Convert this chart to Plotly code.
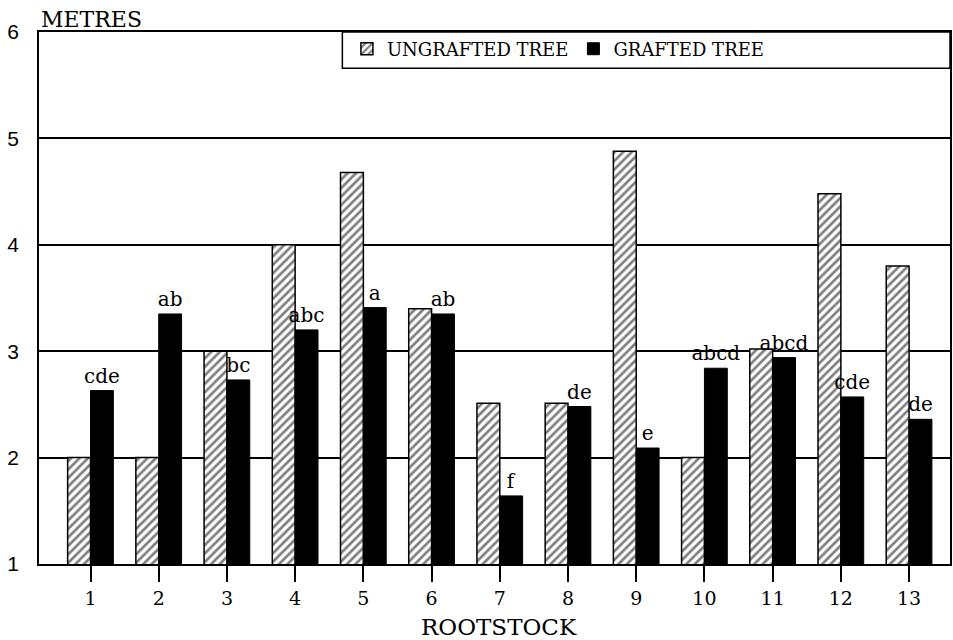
import plotly.graph_objects as go

rootstocks = list(range(1, 14))
tick_labels = [str(r) for r in rootstocks]
ungrafted = [2.0, 2.0, 3.0, 4.0, 4.68, 3.40, 2.51, 2.51, 4.88, 2.0, 3.02, 4.48, 3.80]
grafted = [2.63, 3.35, 2.73, 3.20, 3.41, 3.35, 1.64, 2.48, 2.09, 2.84, 2.94, 2.57, 2.36]
letters = ["cde", "ab", "bc", "abc", "a", "ab", "f", "de", "e", "abcd", "abcd", "cde", "de"]
y_ticks = [1, 2, 3, 4, 5, 6]

SERIF = "DejaVu Serif"
SANS = "Liberation Sans"

fig = go.Figure()
fig.add_trace(go.Bar(
    x=rootstocks, y=ungrafted, name="UNGRAFTED TREE",
    marker=dict(color="white", line=dict(color="black", width=1.5),
                pattern=dict(shape="/", fgcolor="black", bgcolor="white",
                             size=6, solidity=0.45)),
))
fig.add_trace(go.Bar(
    x=rootstocks, y=grafted, name="GRAFTED TREE",
    marker=dict(color="black", line=dict(color="black", width=1)),
    text=letters, textposition="outside", constraintext="none",
    textfont=dict(family=SERIF, size=20, color="black"), cliponaxis=False,
))

fig.update_layout(
    width=953, height=640,
    margin=dict(l=39, r=1, t=32, b=76),
    paper_bgcolor="white", plot_bgcolor="white",
    barmode="group", bargap=0.33, bargroupgap=0,
    showlegend=True,
    legend=dict(orientation="h", x=0.338, y=0.968, xanchor="left", yanchor="middle",
                bgcolor="rgba(0,0,0,0)", borderwidth=0, itemclick=False,
                font=dict(family=SERIF, size=18, color="black")),
    xaxis=dict(range=[0.245, 13.6], tickmode="array", tickvals=rootstocks, ticktext=tick_labels,
               ticks="outside", ticklen=16, tickwidth=1.5, tickcolor="black",
               showline=True, linecolor="black", linewidth=1.5, mirror=True,
               showgrid=False, zeroline=False,
               tickfont=dict(family=SERIF, size=19, color="black")),
    yaxis=dict(range=[1, 6], tickmode="array", tickvals=y_ticks,
               showline=True, linecolor="black", linewidth=1.5, mirror=True,
               showgrid=True, gridcolor="black", gridwidth=1.5, zeroline=False,
               ticks="", ticklabelstandoff=14,
               tickfont=dict(family=SANS, size=21, color="black")),
    annotations=[
        dict(text="METRES", xref="paper", yref="paper", x=0, y=1,
             xanchor="left", yanchor="bottom", showarrow=False, yshift=-2,
             font=dict(family=SERIF, size=22, color="black")),
        dict(text="ROOTSTOCK", xref="paper", yref="paper", x=0.505, y=-0.118,
             xanchor="center", yanchor="middle", showarrow=False,
             font=dict(family=SERIF, size=23, color="black")),
    ],
    shapes=[dict(type="rect", xref="paper", yref="paper", x0=0.333, x1=1, y0=0.932, y1=1,
                 line=dict(color="black", width=1.5), fillcolor="white", layer="above")],
)

fig.write_html("out.html", config={"displayModeBar": False},
               post_script="document.body.style.margin='0';document.body.style.overflow='hidden';")
